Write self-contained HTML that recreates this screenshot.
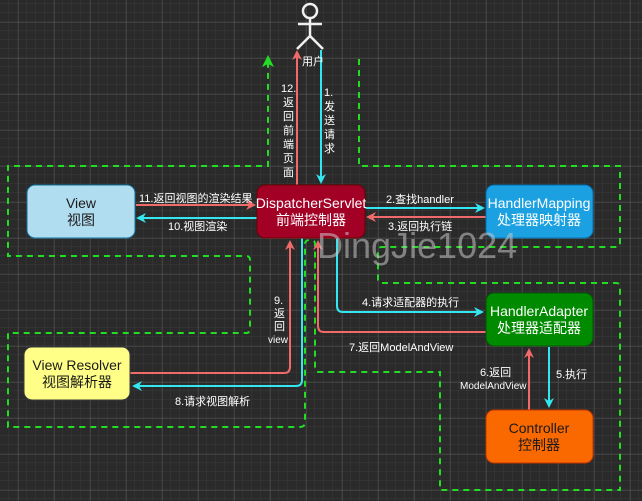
<!DOCTYPE html>
<html><head><meta charset="utf-8"><style>
html,body{margin:0;padding:0;background:#2a2a2a;}
svg{display:block;}
text{font-family:"Liberation Sans","Noto Sans CJK SC",sans-serif;}
.lbl{font-size:11px;fill:#fff;}
.nd{font-size:14px;text-anchor:middle;}
</style></head><body>
<svg width="642" height="501" xmlns="http://www.w3.org/2000/svg">
<defs>
<pattern id="mi" width="9" height="9" patternUnits="userSpaceOnUse" x="0" y="4">
<path d="M9 0V9M0 9H9" stroke="#3a3a3a" stroke-width="1" fill="none"/></pattern>
<pattern id="ma" width="36" height="36" patternUnits="userSpaceOnUse" x="18.5" y="22.5">
<path d="M0 0V36M0 0H36" stroke="#555" stroke-width="1" fill="none"/></pattern>
<marker id="ac" markerWidth="10" markerHeight="10" refX="8" refY="5" orient="auto" markerUnits="userSpaceOnUse"><path d="M0 0L10 5L0 10L3 5Z" fill="#33e6f0"/></marker>
<marker id="ar" markerWidth="10" markerHeight="10" refX="8" refY="5" orient="auto" markerUnits="userSpaceOnUse"><path d="M0 0L10 5L0 10L3 5Z" fill="#f06a6a"/></marker>
<marker id="ag" markerWidth="12" markerHeight="12" refX="9" refY="6" orient="auto" markerUnits="userSpaceOnUse"><path d="M0 0L12 6L0 12L3 6Z" fill="#22dd22"/></marker>
</defs>
<rect width="642" height="501" fill="#2a2a2a"/>
<rect width="642" height="501" fill="url(#mi)"/>
<rect width="642" height="501" fill="url(#ma)"/>

<!-- green dashed -->
<g fill="none" stroke="#22dd22" stroke-width="2" stroke-dasharray="6,5">
<path d="M359 59V166H620V243Q620 247 616 247H382Q378 247 378 251V279Q378 283 382 283H616Q620 283 620 287V490H440V372H319Q315 372 315 368V244Q315 240 311 240H310Q305 240 305 244V422Q305 427 300 427H8V333H246Q250 333 250 329V260Q250 256 246 256H8V166H268V58" marker-end="url(#ag)"/>
</g>

<!-- arrows -->
<g fill="none" stroke-width="2">
<path d="M297 238V52" stroke="#f06a6a" marker-end="url(#ar)"/>
<path d="M321 50V182" stroke="#33e6f0" marker-end="url(#ac)"/>
<path d="M365 208H483" stroke="#33e6f0" marker-end="url(#ac)"/>
<path d="M486 217H368" stroke="#f06a6a" marker-end="url(#ar)"/>
<path d="M136 205H254" stroke="#f06a6a" marker-end="url(#ar)"/>
<path d="M257 218H138" stroke="#33e6f0" marker-end="url(#ac)"/>
<path d="M130 373H284Q290 373 290 367V242" stroke="#f06a6a" marker-end="url(#ar)"/>
<path d="M302 238V380Q302 386 296 386H134" stroke="#33e6f0" marker-end="url(#ac)"/>
<path d="M337 238V306Q337 312 343 312H482" stroke="#33e6f0" marker-end="url(#ac)"/>
<path d="M486 332H324Q318 332 318 326V242" stroke="#f06a6a" marker-end="url(#ar)"/>
<path d="M549 347V406" stroke="#33e6f0" marker-end="url(#ac)"/>
<path d="M529 410V350" stroke="#f06a6a" marker-end="url(#ar)"/>
</g>

<!-- stick figure -->
<g stroke="#f0f0f0" stroke-width="2.5" fill="none">
<circle cx="310" cy="11" r="7"/>
<path d="M310 18V36M298 24H322M310 36L297 49M310 36L323 49"/>
</g>
<text class="lbl" x="302" y="65">用户</text>

<!-- nodes -->
<rect x="27" y="185" width="108" height="53" rx="8" fill="#b1ddf0" stroke="#10739e"/>
<text class="nd" x="81" y="208" fill="#1a1a1a">View</text><text class="nd" x="81" y="225" fill="#1a1a1a">视图</text>
<rect x="257" y="185" width="108" height="53" rx="8" fill="#a20025" stroke="#6f0000"/>
<text class="nd" x="311" y="208" fill="#fff">DispatcherServlet</text><text class="nd" x="311" y="225" fill="#fff">前端控制器</text>
<rect x="486" y="185" width="107" height="53" rx="8" fill="#1ba1e2" stroke="#006eaf"/>
<text class="nd" x="539" y="208" fill="#fff">HandlerMapping</text><text class="nd" x="539" y="225" fill="#fff">处理器映射器</text>
<rect x="486" y="293" width="107" height="53" rx="8" fill="#008a00" stroke="#005700"/>
<text class="nd" x="539" y="316" fill="#fff">HandlerAdapter</text><text class="nd" x="539" y="333" fill="#fff">处理器适配器</text>
<rect x="486" y="410" width="107" height="53" rx="8" fill="#fa6800" stroke="#c73500"/>
<text class="nd" x="539" y="433" fill="#1a1a1a">Controller</text><text class="nd" x="539" y="450" fill="#1a1a1a">控制器</text>
<rect x="24" y="347" width="106" height="53" rx="8" fill="#ffff88" stroke="#36393d"/>
<text class="nd" x="77" y="370" fill="#1a1a1a">View Resolver</text><text class="nd" x="77" y="387" fill="#1a1a1a">视图解析器</text>

<text x="317" y="258" font-size="36" fill="rgba(200,200,200,0.55)">DingJie1024</text>

<!-- labels -->
<g class="lbl">
<text x="281" y="92">12.</text><text x="283" y="106">返</text><text x="283" y="120">回</text><text x="283" y="134">前</text><text x="283" y="148">端</text><text x="283" y="162">页</text><text x="283" y="176">面</text>
<text x="324" y="96">1.</text><text x="324" y="110">发</text><text x="324" y="124">送</text><text x="324" y="138">请</text><text x="324" y="152">求</text>
<text x="386" y="203">2.查找handler</text>
<text x="388" y="230">3.返回执行链</text>
<text x="139" y="202">11.返回视图的渲染结果</text>
<text x="168" y="230">10.视图渲染</text>
<text x="274" y="304">9.</text><text x="274" y="317">返</text><text x="274" y="330">回</text><text x="268" y="343" font-size="10">view</text>
<text x="175" y="405">8.请求视图解析</text>
<text x="362" y="306">4.请求适配器的执行</text>
<text x="349" y="351">7.返回ModelAndView</text>
<text x="556" y="378">5.执行</text>
<text x="480" y="376">6.返回</text>
<text x="460" y="389" font-size="10">ModelAndView</text>
</g>
</svg>
</body></html>
